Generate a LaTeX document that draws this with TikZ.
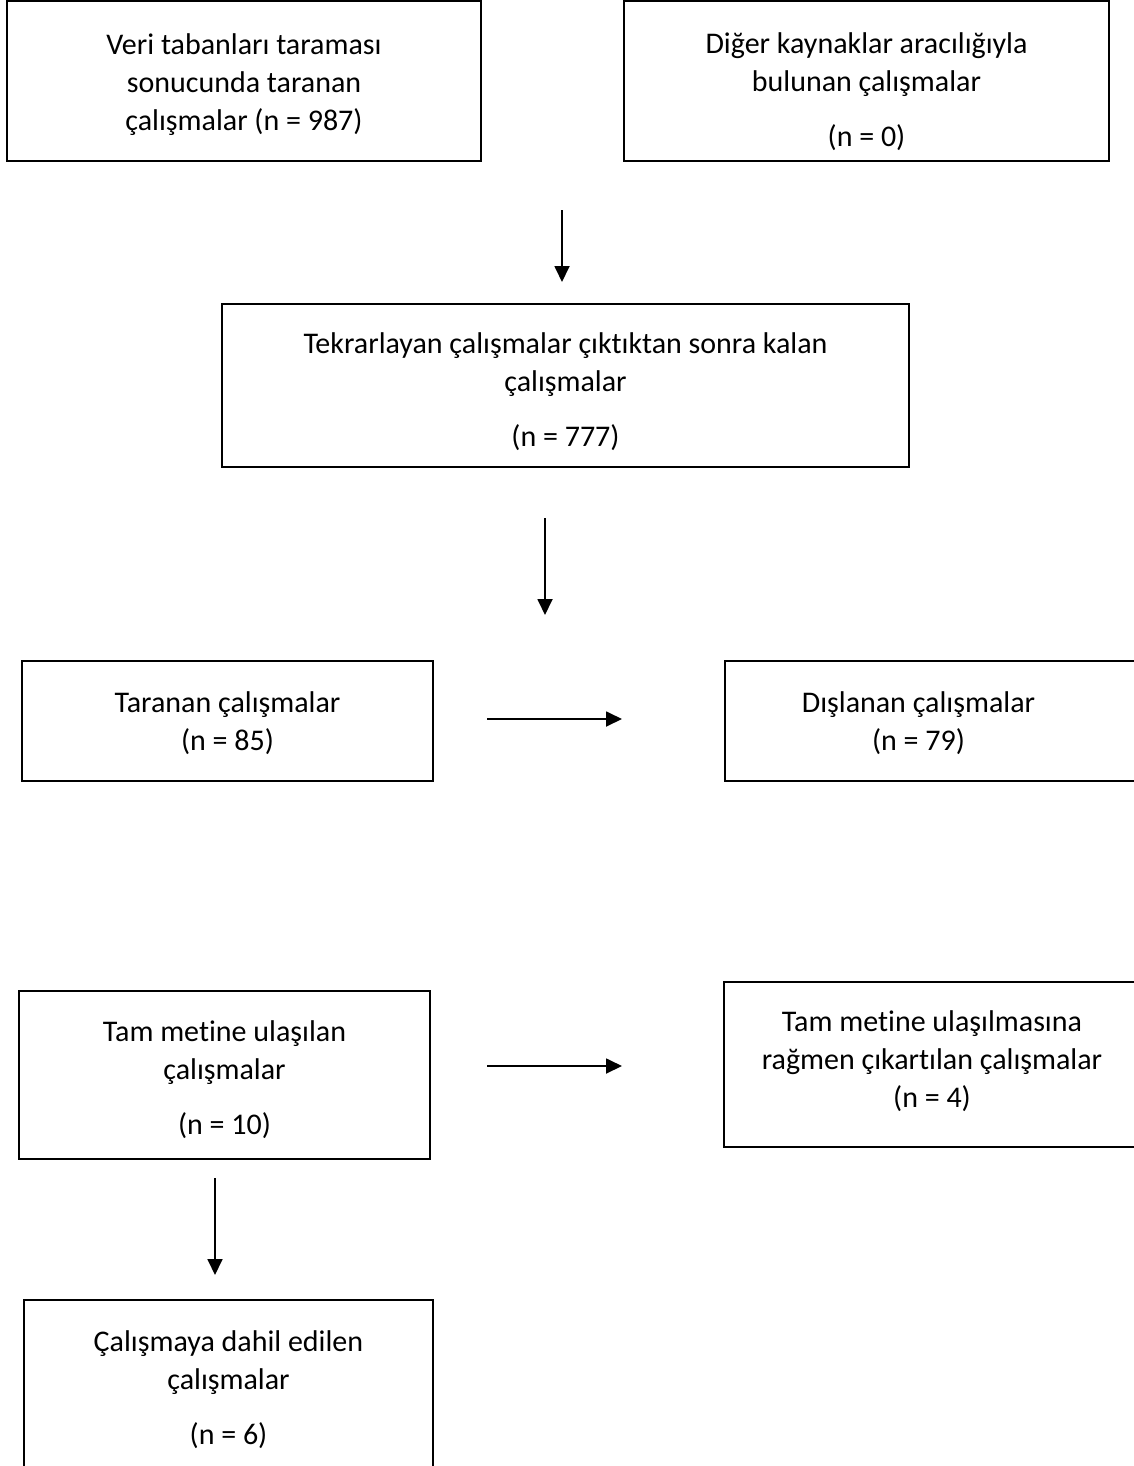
\documentclass[tikz,border=0pt]{standalone}
\usepackage{fontspec}
\setmainfont{Carlito}[Ligatures=NoCommon]
\usetikzlibrary{arrows.meta}
\newcommand{\ust}[1]{\rule{0pt}{#1}}
\tikzset{kutu/.style={draw,line width=1.6pt,align=center,inner sep=0pt}}
\begin{document}
\begin{tikzpicture}[x=1pt,y=-1pt,>={Triangle[width=15pt,length=16pt]},line width=1.8pt,font=\fontsize{30}{38}\selectfont]
	\useasboundingbox (0,0) rectangle (1133,1466);
	\node[kutu,minimum width=474pt,minimum height=160pt] (veri) at (244,81) {\ust{29pt}Veri tabanları taraması\\sonucunda taranan\\çalışmalar (n = 987)};
	\node[kutu,minimum width=485pt,minimum height=160pt] (diger) at (866.5,81) {\ust{42pt}Diğer kaynaklar aracılığıyla\\bulunan çalışmalar\\[17pt](n = 0)};
	\node[kutu,minimum width=687pt,minimum height=163pt] (tekrar) at (565.5,385.5) {\ust{33pt}Tekrarlayan çalışmalar çıktıktan sonra kalan\\çalışmalar\\[17pt](n = 777)};
	\node[kutu,minimum width=411pt,minimum height=120pt] (taranan) at (227.5,721) {\ust{25pt}Taranan çalışmalar\\(n = 85)};
	\node[kutu,minimum width=415pt,minimum height=120pt] (dislanan) at (932.5,721) {\ust{25pt}Dışlanan çalışmalar\hspace*{28pt}\\(n = 79)\hspace*{28pt}};
	\node[kutu,minimum width=411pt,minimum height=168pt] (tammetin) at (224.5,1075) {\ust{31pt}Tam metine ulaşılan\\çalışmalar\\[17pt](n = 10)};
	\node[kutu,minimum width=416pt,minimum height=165pt] (cikan) at (932,1064.5) {Tam metine ulaşılmasına\\rağmen çıkartılan çalışmalar\\(n = 4)\rule[-11pt]{0pt}{0pt}};
	\node[kutu,minimum width=409pt,minimum height=180pt] (dahil) at (228.5,1390) {Çalışmaya dahil edilen\\çalışmalar\\[17pt](n = 6)};
	\path
	(562,210) coordinate (a1) (562,282) coordinate (b1)
	(545,518) coordinate (a2) (545,615) coordinate (b2)
	(487,719) coordinate (a3) (622,719) coordinate (b3)
	(487,1066) coordinate (a4) (622,1066) coordinate (b4)
	(215,1178) coordinate (a5) (215,1275) coordinate (b5);
	\foreach \i in {1,...,5}
	\draw[->] (a\i)--(b\i);
\end{tikzpicture}
\end{document}
